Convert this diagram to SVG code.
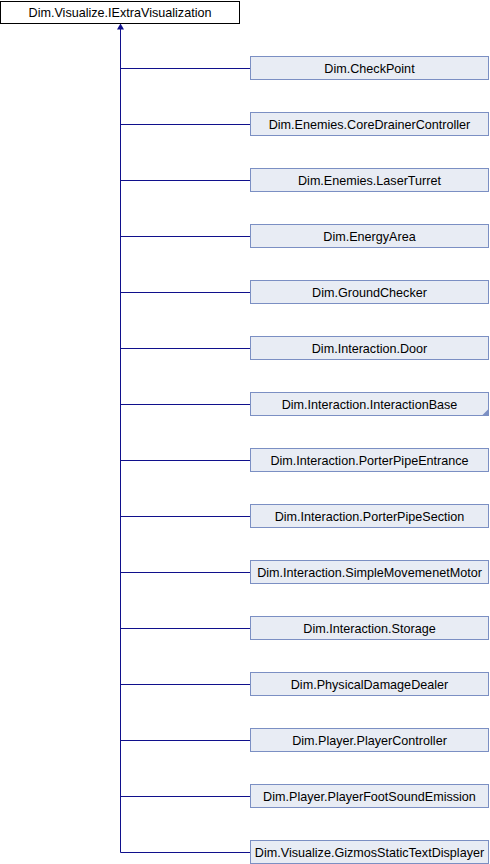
<svg xmlns="http://www.w3.org/2000/svg" width="490" height="864" viewBox="0 0 490 864">
<style>
.bg{fill:#ffffff}
.root rect{fill:#ffffff;stroke:#000000;stroke-width:1}
.node rect{fill:#e8ecf4;stroke:#7b8fc3;stroke-width:1}
text{font-family:"Liberation Sans",Arial,sans-serif;font-size:12.6px;fill:#000000;text-anchor:middle}
.edge{stroke:#10108c;stroke-width:1;fill:none}
</style>
<rect class="bg" x="0" y="0" width="490" height="864"/>
<g id="connectors">
<path class="edge" d="M120.5,852.5 V28"/>
<polygon points="120.5,23.5 117,29.5 124,29.5" fill="#10108c"/>
<path class="edge" d="M120.5,68.5 H250 M120.5,124.5 H250 M120.5,180.5 H250 M120.5,236.5 H250 M120.5,292.5 H250 M120.5,348.5 H250 M120.5,404.5 H250 M120.5,460.5 H250 M120.5,516.5 H250 M120.5,572.5 H250 M120.5,628.5 H250 M120.5,684.5 H250 M120.5,740.5 H250 M120.5,796.5 H250 M120.5,852.5 H250"/>
</g>
<g id="IExtraVisualization" class="root"><rect x="0.5" y="1.5" width="239" height="22"/><text x="120" y="17">Dim.Visualize.IExtraVisualization</text></g>
<g id="CheckPoint" class="node"><rect x="250.5" y="56.5" width="238" height="23"/><text x="369.5" y="72.5">Dim.CheckPoint</text></g>
<g id="CoreDrainerController" class="node"><rect x="250.5" y="112.5" width="238" height="23"/><text x="369.5" y="128.5">Dim.Enemies.CoreDrainerController</text></g>
<g id="LaserTurret" class="node"><rect x="250.5" y="168.5" width="238" height="23"/><text x="369.5" y="184.5">Dim.Enemies.LaserTurret</text></g>
<g id="EnergyArea" class="node"><rect x="250.5" y="224.5" width="238" height="23"/><text x="369.5" y="240.5">Dim.EnergyArea</text></g>
<g id="GroundChecker" class="node"><rect x="250.5" y="280.5" width="238" height="23"/><text x="369.5" y="296.5">Dim.GroundChecker</text></g>
<g id="Door" class="node"><rect x="250.5" y="336.5" width="238" height="23"/><text x="369.5" y="352.5">Dim.Interaction.Door</text></g>
<g id="InteractionBase" class="node"><rect x="250.5" y="392.5" width="238" height="23"/><polygon points="488.5,409 488.5,415.5 482,415.5" fill="#7b8fc3"/><text x="369.5" y="408.5">Dim.Interaction.InteractionBase</text></g>
<g id="PorterPipeEntrance" class="node"><rect x="250.5" y="448.5" width="238" height="23"/><text x="369.5" y="464.5">Dim.Interaction.PorterPipeEntrance</text></g>
<g id="PorterPipeSection" class="node"><rect x="250.5" y="504.5" width="238" height="23"/><text x="369.5" y="520.5">Dim.Interaction.PorterPipeSection</text></g>
<g id="SimpleMovemenetMotor" class="node"><rect x="250.5" y="560.5" width="238" height="23"/><text x="369.5" y="576.5">Dim.Interaction.SimpleMovemenetMotor</text></g>
<g id="Storage" class="node"><rect x="250.5" y="616.5" width="238" height="23"/><text x="369.5" y="632.5">Dim.Interaction.Storage</text></g>
<g id="PhysicalDamageDealer" class="node"><rect x="250.5" y="672.5" width="238" height="23"/><text x="369.5" y="688.5">Dim.PhysicalDamageDealer</text></g>
<g id="PlayerController" class="node"><rect x="250.5" y="728.5" width="238" height="23"/><text x="369.5" y="744.5">Dim.Player.PlayerController</text></g>
<g id="PlayerFootSoundEmission" class="node"><rect x="250.5" y="784.5" width="238" height="23"/><text x="369.5" y="800.5">Dim.Player.PlayerFootSoundEmission</text></g>
<g id="GizmosStaticTextDisplayer" class="node"><rect x="250.5" y="840.5" width="238" height="23"/><text x="369.5" y="856.5">Dim.Visualize.GizmosStaticTextDisplayer</text></g>
</svg>
